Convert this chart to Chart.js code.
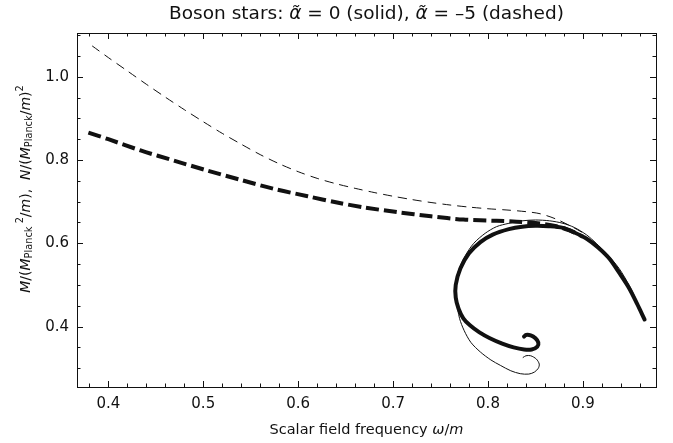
<!DOCTYPE html>
<html>
<head>
<meta charset="utf-8">
<script src="https://cdn.jsdelivr.net/npm/chart.js@4.4.1/dist/chart.umd.min.js"></script>
<style>
  html, body { margin: 0; padding: 0; background: #fff; }
</style>
</head>
<body>
<canvas id="chart" width="673" height="443"></canvas>
<script>
// alpha = 0, mass (thick solid)
const omegaMass0 = [0.965, 0.957, 0.949, 0.938, 0.928, 0.916, 0.904, 0.891, 0.879, 0.864, 0.850, 0.836, 0.822, 0.805, 0.792, 0.780, 0.771, 0.766, 0.766, 0.769, 0.774, 0.781, 0.791, 0.802, 0.815, 0.827, 0.838, 0.846, 0.852, 0.853, 0.850, 0.845, 0.840, 0.838];
const mass0 = [0.417, 0.455, 0.491, 0.530, 0.563, 0.590, 0.611, 0.626, 0.637, 0.641, 0.642, 0.640, 0.634, 0.621, 0.603, 0.576, 0.540, 0.500, 0.470, 0.443, 0.420, 0.403, 0.386, 0.372, 0.359, 0.350, 0.345, 0.345, 0.352, 0.362, 0.372, 0.379, 0.380, 0.376];

// alpha = 0, particle number (thin solid)
const omegaNum0 = [0.965, 0.957, 0.949, 0.938, 0.925, 0.914, 0.904, 0.891, 0.879, 0.865, 0.850, 0.836, 0.822, 0.809, 0.797, 0.785, 0.776, 0.769, 0.766, 0.767, 0.770, 0.775, 0.782, 0.792, 0.803, 0.813, 0.824, 0.834, 0.843, 0.849, 0.853, 0.854, 0.851, 0.845, 0.840, 0.837];
const num0 = [0.420, 0.460, 0.498, 0.540, 0.575, 0.600, 0.620, 0.638, 0.648, 0.654, 0.656, 0.654, 0.648, 0.640, 0.624, 0.600, 0.570, 0.535, 0.500, 0.459, 0.420, 0.390, 0.362, 0.339, 0.320, 0.307, 0.294, 0.287, 0.286, 0.291, 0.300, 0.310, 0.322, 0.330, 0.330, 0.326];

// alpha = -5, mass (thick dashed)
const omegaMass5 = [0.379, 0.400, 0.434, 0.470, 0.504, 0.540, 0.574, 0.610, 0.641, 0.670, 0.704, 0.740, 0.774, 0.809, 0.830, 0.850, 0.872, 0.886, 0.900];
const mass5 = [0.866, 0.850, 0.823, 0.798, 0.775, 0.752, 0.731, 0.713, 0.698, 0.686, 0.675, 0.665, 0.657, 0.654, 0.652, 0.649, 0.641, 0.631, 0.616];

// alpha = -5, particle number (thin dashed)
const omegaNum5 = [0.383, 0.400, 0.420, 0.440, 0.460, 0.480, 0.500, 0.520, 0.540, 0.560, 0.580, 0.600, 0.620, 0.640, 0.660, 0.680, 0.700, 0.720, 0.740, 0.760, 0.780, 0.800, 0.820, 0.840, 0.855, 0.872, 0.890, 0.904];
const num5 = [1.074, 1.046, 1.014, 0.982, 0.951, 0.921, 0.892, 0.864, 0.838, 0.813, 0.791, 0.772, 0.756, 0.743, 0.732, 0.722, 0.713, 0.705, 0.698, 0.692, 0.687, 0.683, 0.680, 0.676, 0.671, 0.658, 0.638, 0.620];

const xTicks = [0.4, 0.5, 0.6, 0.7, 0.8, 0.9];
const yTicks = [0.4, 0.6, 0.8, 1.0];

const pts = (xs, ys) => xs.map((x, i) => ({ x: x, y: ys[i] }));
const FONT = 'DejaVu Sans';

// draw text made of normal / italic / sub / sup pieces
function drawRich(ctx, parts, cx, cy, size) {
    const fontFor = p => {
        const small = p[1] === 'sub' || p[1] === 'sup';
        const s = small ? size * 0.7 : size;
        return (p[1] === 'i' ? 'italic ' : '') + s + 'px "' + FONT + '"';
    };
    let total = 0;
    parts.forEach(p => { ctx.font = fontFor(p); total += ctx.measureText(p[0]).width; });
    let x = cx - total / 2;
    ctx.textBaseline = 'middle';
    ctx.textAlign = 'left';
    parts.forEach(p => {
        ctx.font = fontFor(p);
        let dy = 0;
        if (p[1] === 'sub') dy = size * 0.28;
        if (p[1] === 'sup') dy = -size * 0.42;
        ctx.fillText(p[0], x, cy + dy);
        x += ctx.measureText(p[0]).width;
    });
}

const framePlugin = {
    id: 'frame',
    afterDraw(chart) {
        const ctx = chart.ctx;
        const a = chart.chartArea;
        const xs = chart.scales.x, ys = chart.scales.y;
        ctx.save();
        ctx.strokeStyle = '#111';
        ctx.lineWidth = 1;
        ctx.strokeRect(a.left + 0.5, a.top + 0.5, a.right - a.left, a.bottom - a.top);

        const tick = (x1, y1, x2, y2) => {
            ctx.beginPath(); ctx.moveTo(x1, y1); ctx.lineTo(x2, y2); ctx.stroke();
        };
        // x ticks, major and minor, pointing in
        for (let v = 0.38; v < xs.max; v += 0.02) {
            const major = xTicks.some(t => Math.abs(t - v) < 1e-6);
            const len = major ? 6 : 3.5;
            const px = Math.round(xs.getPixelForValue(v)) + 0.5;
            tick(px, a.bottom, px, a.bottom - len);
            tick(px, a.top, px, a.top + len);
        }
        for (let v = 0.3; v < ys.max; v += 0.05) {
            const major = yTicks.some(t => Math.abs(t - v) < 1e-6);
            const len = major ? 6 : 3.5;
            const py = Math.round(ys.getPixelForValue(v)) + 0.5;
            tick(a.left, py, a.left + len, py);
            tick(a.right, py, a.right - len, py);
        }

        ctx.fillStyle = '#111';
        drawRich(ctx, [['Boson stars: ', 'n'], ['α̃', 'i'], [' = 0 (solid), ', 'n'], ['α̃', 'i'], [' = –5 (dashed)', 'n']],
            (a.left + a.right) / 2, 14, 18.5);
        drawRich(ctx, [['Scalar field frequency ', 'n'], ['ω', 'i'], ['/', 'n'], ['m', 'i']],
            (a.left + a.right) / 2, 430, 14.5);

        ctx.translate(26, 189);
        ctx.rotate(-Math.PI / 2);
        drawRich(ctx, [
            ['M', 'i'], ['/(', 'n'], ['M', 'i'], ['Planck', 'sub'], [' 2', 'sup'], ['/', 'n'], ['m', 'i'], ['),  ', 'n'],
            ['N', 'i'], ['/(', 'n'], ['M', 'i'], ['Planck', 'sub'], ['/', 'n'], ['m', 'i'], [')', 'n'], ['2', 'sup']
        ], 0, 0, 14);
        ctx.restore();
    }
};

const line = (data, width, dash) => ({
    data: data,
    showLine: true,
    borderColor: '#111',
    borderWidth: width,
    borderDash: dash,
    borderCapStyle: dash.length ? 'butt' : 'round',
    borderJoinStyle: 'round',
    pointRadius: 0,
    tension: 0.3,
    fill: false
});

new Chart(document.getElementById('chart'), {
    type: 'scatter',
    data: {
        datasets: [
            line(pts(omegaNum5, num5), 1, [9, 6]),
            line(pts(omegaMass5, mass5), 4, [13, 5]),
            line(pts(omegaNum0, num0), 1, []),
            line(pts(omegaMass0, mass0), 4, [])
        ]
    },
    plugins: [framePlugin],
    options: {
        responsive: false,
        animation: false,
        devicePixelRatio: 1,
        layout: { padding: { left: 0, right: 17, top: 33, bottom: 0 } },
        plugins: { legend: { display: false }, tooltip: { enabled: false } },
        scales: {
            x: {
                type: 'linear',
                min: 0.367,
                max: 0.977,
                grid: { display: false, drawTicks: false },
                border: { display: false },
                afterBuildTicks: s => { s.ticks = xTicks.map(v => ({ value: v })); },
                afterFit: s => { s.height = 56; },
                ticks: {
                    padding: 8,
                    color: '#111',
                    font: { family: FONT, size: 15 },
                    callback: v => v.toFixed(1)
                }
            },
            y: {
                type: 'linear',
                min: 0.255,
                max: 1.105,
                grid: { display: false, drawTicks: false },
                border: { display: false },
                afterBuildTicks: s => { s.ticks = yTicks.map(v => ({ value: v })); },
                afterFit: s => { s.width = 77; },
                ticks: {
                    padding: 8,
                    color: '#111',
                    font: { family: FONT, size: 15 },
                    callback: v => v.toFixed(1)
                }
            }
        }
    }
});
</script>
</body>
</html>
